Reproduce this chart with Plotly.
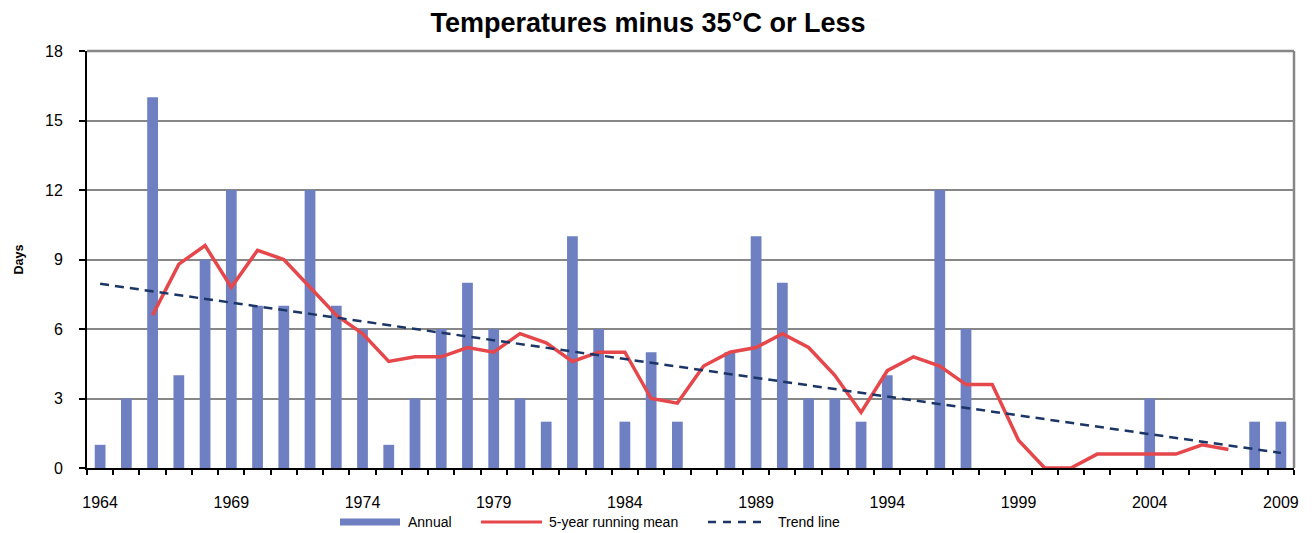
import plotly.graph_objects as go

years = list(range(1964, 2010))
annual = [1, 3, 16, 4, 9, 12, 7, 7, 12, 7,
          6, 1, 3, 6, 8, 6, 3, 2, 10, 6,
          2, 5, 2, 0, 5, 10, 8, 3, 3, 2,
          4, 0, 12, 6, 0, 0, 0, 0, 0, 0,
          3, 0, 0, 0, 2, 2]
mean_years = list(range(1966, 2008))
running_mean = [6.6, 8.8, 9.6, 7.8, 9.4, 9.0, 7.8, 6.6, 5.8, 4.6,
                4.8, 4.8, 5.2, 5.0, 5.8, 5.4, 4.6, 5.0, 5.0, 3.0,
                2.8, 4.4, 5.0, 5.2, 5.8, 5.2, 4.0, 2.4, 4.2, 4.8,
                4.4, 3.6, 3.6, 1.2, 0.0, 0.0, 0.6, 0.6, 0.6, 0.6,
                1.0, 0.8]
trend_years = [1964, 2009]
trend_values = [7.95, 0.65]
x_tick_labels = [1964, 1969, 1974, 1979, 1984, 1989, 1994, 1999, 2004, 2009]
y_ticks = [0, 3, 6, 9, 12, 15, 18]
series_names = ["Annual", "5-year running mean", "Trend line"]

font = "Liberation Sans, Arial, sans-serif"
BAR_C = "#6E7FC2"
MEAN_C = "#E5474B"
TREND_C = "#1B3566"
TREND_DASH = "9px,6px"
GRID_C = "#878787"

# page body has an 8px margin: figure is drawn from (8, 8) in the window
OFF = 8
W, H = 1316 - OFF, 533 - OFF
L, T = 87 - OFF, 51 - OFF
R, B = W - (1294 - OFF), H - (468 - OFF)
PW, PH = W - L - R, H - T - B


def px_x(p):
    return (p - OFF - L) / PW


def px_y(p):
    return (H - B - (p - OFF)) / PH


fig = go.Figure()
fig.add_trace(go.Bar(x=years, y=annual, name=series_names[0],
                     marker=dict(color=BAR_C, line=dict(width=0)),
                     width=0.41, showlegend=False))
fig.add_trace(go.Scatter(x=mean_years, y=running_mean, name=series_names[1],
                         mode="lines", line=dict(color=MEAN_C, width=3.5), showlegend=False))
fig.add_trace(go.Scatter(x=trend_years, y=trend_values, name=series_names[2],
                         mode="lines", line=dict(color=TREND_C, width=2.5, dash=TREND_DASH),
                         showlegend=False))

fig.update_layout(
    width=W, height=H,
    margin=dict(l=L, r=R, t=T, b=B, autoexpand=False),
    plot_bgcolor="white", paper_bgcolor="white",
    font=dict(family=font, size=14, color="black"),
    title=dict(text="<b>Temperatures minus 35°C or Less</b>", x=(648 - OFF) / W,
               xanchor="center", xref="container", yref="container",
               y=1 - 5 / H, yanchor="top", font=dict(size=27, family=font)),
    showlegend=False,
)
fig.update_xaxes(
    range=[1963.5, 2009.5], automargin=False,
    tickmode="array", tickvals=x_tick_labels, ticktext=[str(v) for v in x_tick_labels],
    ticks="outside", ticklen=19, tickcolor="rgba(0,0,0,0)",
    showgrid=False, zeroline=False,
    showline=True, linecolor="black", linewidth=2,
    minor=dict(tickmode="array", tickvals=[y - 0.5 for y in years] + [2009.5],
               ticks="outside", ticklen=5, tickcolor="black", tickwidth=1.5, showgrid=False),
    tickfont=dict(size=16, family=font),
)
fig.update_yaxes(
    range=[0, 18], tickmode="array", tickvals=y_ticks, automargin=False,
    ticks="outside", ticklen=6, tickcolor="black", tickwidth=1.5,
    showgrid=True, gridcolor=GRID_C, gridwidth=1.5,
    zeroline=False, showline=True, linecolor="black", linewidth=2,
    ticklabelstandoff=13,
    title=dict(text="<b>Days</b>", font=dict(size=12.5, family=font), standoff=19),
    tickfont=dict(size=16, family=font),
)
# right and top plot border
fig.add_shape(type="line", xref="paper", yref="paper", x0=1, x1=1, y0=0, y1=1,
              line=dict(color=GRID_C, width=2.5))
fig.add_shape(type="line", xref="paper", yref="paper", x0=0, x1=1, y0=1, y1=1,
              line=dict(color=GRID_C, width=2.5))

# manual legend (wide swatches as in the reference)
ly = px_y(522)
fig.add_shape(type="rect", xref="paper", yref="paper",
              x0=px_x(340), x1=px_x(400), y0=px_y(525.5), y1=px_y(518.5),
              fillcolor=BAR_C, line=dict(width=0))
fig.add_shape(type="line", xref="paper", yref="paper",
              x0=px_x(481), x1=px_x(542), y0=ly, y1=ly,
              line=dict(color=MEAN_C, width=3))
fig.add_shape(type="line", xref="paper", yref="paper",
              x0=px_x(708), x1=px_x(765), y0=ly, y1=ly,
              line=dict(color=TREND_C, width=2.5, dash="8px,7px"))
for xpx, txt in [(406, series_names[0]), (547, series_names[1]), (776, series_names[2])]:
    fig.add_annotation(x=px_x(xpx), y=ly, xref="paper", yref="paper", text=txt,
                       showarrow=False, xanchor="left", yanchor="middle",
                       font=dict(size=14, family=font, color="black"))

fig.write_html("out.html")
